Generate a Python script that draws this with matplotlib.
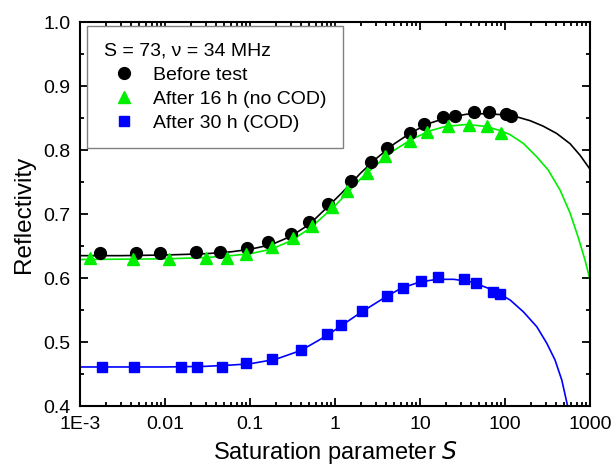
import numpy as np
from matplotlib import pyplot as plt
from matplotlib.ticker import FixedLocator, FixedFormatter, LogLocator, MultipleLocator

plt.rcParams["font.family"] = ["Liberation Sans", "DejaVu Sans"]

# measured points
s_before = [0.00172, 0.00456, 0.00873, 0.0232, 0.0444, 0.0922, 0.163, 0.303, 0.494,
            0.828, 1.54, 2.65, 4.10, 7.63, 11.1, 18.7, 25.8, 43.2, 64.8, 103, 118]
r_before = [0.639, 0.639, 0.639, 0.641, 0.641, 0.647, 0.656, 0.669, 0.6875,
            0.7156, 0.7516, 0.781, 0.803, 0.8266, 0.8406, 0.8516, 0.853, 0.859, 0.859, 0.856, 0.853]

s_16h = [0.00131, 0.00421, 0.0111, 0.0304, 0.0536, 0.0897, 0.182, 0.321, 0.536,
         0.922, 1.38, 2.38, 3.87, 7.63, 12.1, 21.3, 37.7, 61.4, 89.8]
r_16h = [0.632, 0.630, 0.630, 0.632, 0.632, 0.637, 0.648, 0.662, 0.681,
         0.7105, 0.7355, 0.764, 0.790, 0.814, 0.829, 0.837, 0.840, 0.837, 0.826]

s_30h = [0.00182, 0.00431, 0.0154, 0.0238, 0.0469, 0.0897, 0.182, 0.398, 0.805,
         1.18, 2.08, 4.10, 6.31, 10.3, 16.3, 33.0, 45.6, 72.3, 87.4]
r_30h = [0.461, 0.461, 0.461, 0.461, 0.461, 0.467, 0.473, 0.4875, 0.5125,
         0.5266, 0.548, 0.572, 0.584, 0.595, 0.6016, 0.598, 0.592, 0.578, 0.575]

# fit curves
fit_s_before = [0.001, 0.003, 0.01, 0.03, 0.06, 0.1, 0.15, 0.2, 0.3, 0.5, 0.8, 1.2, 2, 3,
                5, 8, 13, 20, 35, 60, 100, 137, 197, 280, 405, 582, 762, 1000]
fit_r_before = [0.635, 0.635, 0.636, 0.638, 0.641, 0.645, 0.650, 0.655, 0.665, 0.684, 0.710,
                0.733, 0.764, 0.786, 0.810, 0.828, 0.842, 0.850, 0.856, 0.857, 0.855, 0.852,
                0.846, 0.8375, 0.826, 0.810, 0.792, 0.770]

fit_s_16h = [0.001, 0.01, 0.03, 0.06, 0.1, 0.15, 0.2, 0.3, 0.5, 1, 2, 3, 5, 8, 13, 20, 35,
             60, 90, 115, 164, 236, 321, 444, 582, 722, 873, 1000]
fit_r_16h = [0.629, 0.630, 0.632, 0.635, 0.638, 0.643, 0.648, 0.658, 0.677, 0.713, 0.755,
             0.776, 0.800, 0.817, 0.830, 0.837, 0.840, 0.837, 0.830, 0.824, 0.8105, 0.7895,
             0.769, 0.7375, 0.7016, 0.6645, 0.628, 0.597]

fit_s_30h = [0.001, 0.01, 0.03, 0.06, 0.1, 0.2, 0.4, 0.8, 1.2, 2, 4, 6, 10, 16, 25, 40,
             70, 115, 164, 236, 310, 387, 465, 541]
fit_r_30h = [0.461, 0.461, 0.462, 0.464, 0.466, 0.473, 0.487, 0.510, 0.526, 0.546, 0.571,
             0.584, 0.594, 0.598, 0.598, 0.594, 0.582, 0.5656, 0.5473, 0.524, 0.498, 0.472,
             0.4406, 0.4016]

xticks = [1e-3, 0.01, 0.1, 1, 10, 100, 1000]
xticklabels = ["1E-3", "0.01", "0.1", "1", "10", "100", "1000"]

fig = plt.figure(figsize=(6.14, 4.71), dpi=100)
ax = fig.add_axes([0.1303, 0.138, 0.8307, 0.815])

ax.plot(fit_s_before, fit_r_before, color="black", lw=1.2)
ax.plot(fit_s_16h, fit_r_16h, color="#00ee00", lw=1.2)
ax.plot(fit_s_30h, fit_r_30h, color="#0000ff", lw=1.2)

ax.plot(s_before, r_before, "o", color="black", ms=8.5, ls="none", label="Before test")
ax.plot(s_16h, r_16h, "^", color="#00ee00", ms=9, ls="none", label="After 16 h (no COD)")
ax.plot(s_30h, r_30h, "s", color="#0000ff", ms=7, ls="none", label="After 30 h (COD)")

ax.set_xscale("log")
ax.set_xlim(1e-3, 1000)
ax.set_ylim(0.4, 1.0)
ax.xaxis.set_major_locator(FixedLocator(xticks))
ax.xaxis.set_major_formatter(FixedFormatter(xticklabels))
ax.xaxis.set_minor_locator(LogLocator(base=10, subs=np.arange(2, 10)))
ax.yaxis.set_major_locator(MultipleLocator(0.1))
ax.yaxis.set_minor_locator(MultipleLocator(0.05))
ax.yaxis.set_major_formatter(plt.FormatStrFormatter("%.1f"))

ax.tick_params(which="both", direction="in", top=True, right=True, width=1.3, labelsize=14)
ax.tick_params(which="major", length=5.5)
ax.tick_params(which="minor", length=3)
ax.tick_params(axis="x", which="major", pad=7.5)
ax.tick_params(axis="y", which="major", pad=7)
for sp in ax.spines.values():
    sp.set_linewidth(1.5)

ax.set_xlabel("Saturation parameter $\\mathit{S}$", fontsize=17, labelpad=4)
ax.set_ylabel("Reflectivity", fontsize=17.5, labelpad=6)

leg = ax.legend(title="S = 73, \u03bd = 34 MHz", loc="upper left", bbox_to_anchor=(0.0137, 0.9896),
                borderaxespad=0, fontsize=14, title_fontsize=14, alignment="left", fancybox=False,
                edgecolor="gray", framealpha=1, handletextpad=0.45, borderpad=0.85,
                labelspacing=0.33, handlelength=2.1)
leg.get_frame().set_linewidth(1.0)

fig.savefig("out.png", dpi=100)
